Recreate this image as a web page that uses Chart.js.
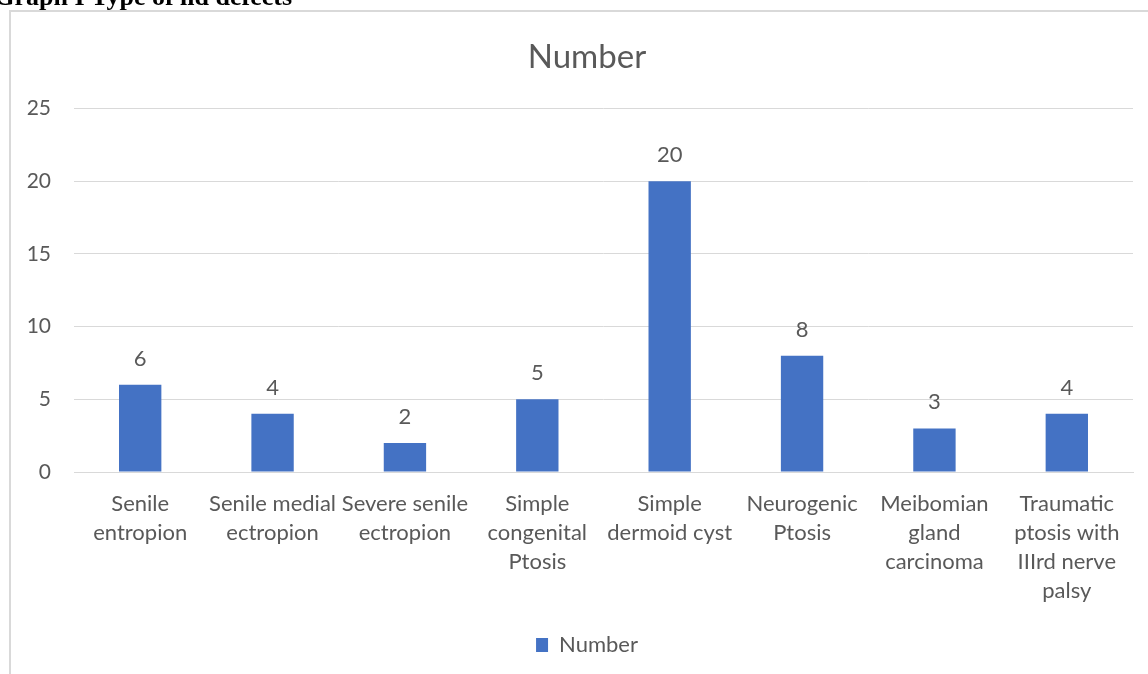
<!DOCTYPE html>
<html>
<head>
<meta charset="utf-8">
<script src="https://cdn.jsdelivr.net/npm/chart.js@4/dist/chart.umd.min.js"></script>
<style>
  html, body { margin: 0; padding: 0; background: #ffffff; }
  #wrap { position: relative; width: 1148px; height: 674px; overflow: hidden; }
</style>
</head>
<body>
<div id="wrap"><canvas id="c" width="1148" height="674"></canvas></div>
<script>
// Lid defect types and case counts
const categories = [
  ["Senile", "entropion"],
  ["Senile medial", "ectropion"],
  ["Severe senile", "ectropion"],
  ["Simple", "congenital", "Ptosis"],
  ["Simple", "dermoid cyst"],
  ["Neurogenic", "Ptosis"],
  ["Meibomian", "gland", "carcinoma"],
  ["Traumatic", "ptosis with", "IIIrd nerve", "palsy"]
];
const counts = [6, 4, 2, 5, 20, 8, 3, 4];
const yTicks = [0, 5, 10, 15, 20, 25];

const TEXT = '#595959';
const GRID = '#d9d9d9';
const BAR = '#4472C4';
const FONT = 'Lato, "Open Sans", sans-serif';

// Frame around the figure and the caption above it
const framePlugin = {
  id: 'frame',
  beforeDraw(chart) {
    const ctx = chart.ctx;
    ctx.save();
    ctx.fillStyle = '#ffffff';
    ctx.fillRect(0, 0, chart.width, chart.height);
    ctx.strokeStyle = GRID;
    ctx.lineWidth = 2;
    ctx.beginPath();
    ctx.moveTo(10, chart.height);
    ctx.lineTo(10, 11);
    ctx.lineTo(chart.width, 11);
    ctx.stroke();
    ctx.fillStyle = '#000000';
    ctx.font = 'bold 26px "Liberation Serif", "Times New Roman", serif';
    ctx.textAlign = 'right';
    ctx.textBaseline = 'alphabetic';
    ctx.fillText('Graph I Type of lid defects', 292, 5);
    ctx.restore();
  }
};

// Value printed above each bar
const valueLabels = {
  id: 'valueLabels',
  afterDatasetsDraw(chart) {
    const ctx = chart.ctx;
    const meta = chart.getDatasetMeta(0);
    ctx.save();
    ctx.fillStyle = TEXT;
    ctx.font = '22px ' + FONT;
    ctx.textAlign = 'center';
    ctx.textBaseline = 'middle';
    meta.data.forEach((bar, i) => {
      ctx.fillText(String(counts[i]), bar.x, bar.y - 26);
    });
    ctx.restore();
  }
};

new Chart(document.getElementById('c'), {
  type: 'bar',
  data: {
    labels: categories,
    datasets: [{
      label: 'Number',
      data: counts,
      backgroundColor: BAR,
      borderWidth: 0,
      categoryPercentage: 1,
      barPercentage: 0.32
    }]
  },
  options: {
    responsive: false,
    animation: false,
    devicePixelRatio: 1,
    layout: { padding: { left: 26, right: 0, top: 0, bottom: 8 } },
    plugins: {
      title: {
        display: true,
        text: 'Number',
        color: TEXT,
        font: { family: FONT, size: 33, weight: 'normal' },
        padding: { top: 38, bottom: 31 }
      },
      legend: {
        display: true,
        position: 'bottom',
        labels: {
          color: TEXT,
          font: { family: FONT, size: 22 },
          boxWidth: 12,
          boxHeight: 14,
          padding: 10
        }
      },
      tooltip: { enabled: false }
    },
    scales: {
      x: {
        grid: { display: false, drawTicks: false },
        border: { display: true, color: GRID, width: 1 },
        ticks: {
          color: TEXT,
          font: { family: FONT, size: 22, lineHeight: 1.32 },
          padding: 17,
          maxRotation: 0,
          minRotation: 0,
          autoSkip: false
        },
        afterFit(scale) { scale.height = 152; }
      },
      y: {
        min: 0,
        max: 25,
        afterBuildTicks(scale) { scale.ticks = yTicks.map(v => ({ value: v })); },
        grid: { color: GRID, lineWidth: 1, drawTicks: false },
        border: { display: false },
        ticks: {
          color: TEXT,
          font: { family: FONT, size: 21 },
          padding: 23
        },
        afterFit(scale) { scale.width = 48; }
      },
      // empty margin to the right of the plot area
      yRight: {
        position: 'right',
        display: true,
        grid: { display: false, drawTicks: false },
        border: { display: false },
        ticks: { display: false },
        afterFit(scale) { scale.width = 15; }
      }
    }
  },
  plugins: [framePlugin, valueLabels]
});
</script>
</body>
</html>
